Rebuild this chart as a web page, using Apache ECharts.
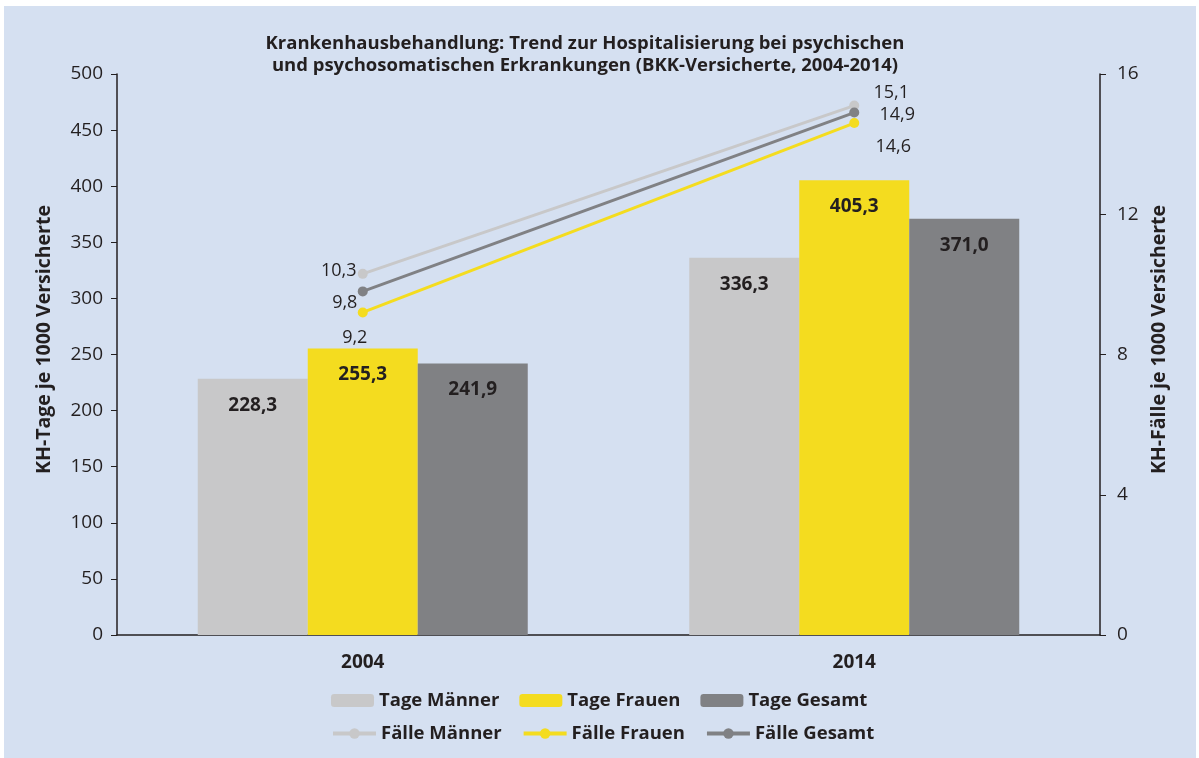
<!DOCTYPE html>
<html>
<head>
<meta charset="utf-8">
<script src="https://cdn.jsdelivr.net/npm/echarts@6/dist/echarts.min.js"></script>
<style>
html, body { margin: 0; padding: 0; background: #ffffff; }
#bg { position: absolute; left: 4px; top: 6px; width: 1192px; height: 752px; background: #d5e0f1; }
#chart { position: absolute; left: 0; top: 0; width: 1199px; height: 758px; }
</style>
</head>
<body>
<div id="bg"></div>
<div id="chart"></div>
<script>
var years = ['2004', '2014']
var tageMaenner = [228.3, 336.3]
var tageFrauen = [255.3, 405.3]
var tageGesamt = [241.9, 371.0]
var faelleMaenner = [10.3, 15.1]
var faelleFrauen = [9.2, 14.6]
var faelleGesamt = [9.8, 14.9]

var font = '"Open Sans", "Noto Sans", sans-serif'
var fmt = function (v) { return v.toFixed(1).replace('.', ',') }

function barSeries(name, data, color) {
    return {
        name: name,
        type: 'bar',
        barWidth: 110,
        barGap: '0%',
        data: data,
        itemStyle: { color: color },
        label: {
            show: true,
            position: 'insideTop',
            distance: 17,
            formatter: function (p) { return fmt(p.value) },
            color: '#231f20',
            fontFamily: font,
            fontWeight: 'bold',
            fontSize: 19
        }
    }
}

function lineSeries(name, data, color, offsets) {
    return {
        name: name,
        type: 'line',
        yAxisIndex: 1,
        symbol: 'circle',
        symbolSize: 10,
        data: data.map(function (v, i) {
            return { value: v, label: { offset: offsets[i] } }
        }),
        lineStyle: { color: color, width: 3 },
        itemStyle: { color: color },
        label: {
            show: true,
            position: 'inside',
            formatter: function (p) { return fmt(p.value) },
            color: '#231f20',
            fontFamily: font,
            fontSize: 18
        },
        z: 5
    }
}

var axisText = { color: '#231f20', fontFamily: font, fontSize: 19 }
var nameText = { color: '#231f20', fontFamily: font, fontWeight: 'bold', fontSize: 19.5, padding: [0, 0, 0, 30] }
var legendText = { color: '#231f20', fontFamily: font, fontWeight: 'bold', fontSize: 18.5 }

var option = {
    backgroundColor: 'transparent',
    animation: false,
    title: {
        text: 'Krankenhausbehandlung: Trend zur Hospitalisierung bei psychischen\nund psychosomatischen Erkrankungen (BKK-Versicherte, 2004-2014)',
        left: 580,
        top: 28,
        textAlign: 'center',
        textStyle: {
            color: '#231f20',
            fontFamily: font,
            fontWeight: 'bold',
            fontSize: 18.5,
            lineHeight: 22
        }
    },
    grid: { left: 117, right: 99, top: 74, bottom: 123 },
    legend: [{
        data: ['Tage Männer', 'Tage Frauen', 'Tage Gesamt'],
        left: 326,
        top: 686,
        itemWidth: 43,
        itemHeight: 13,
        itemGap: 20,
        textStyle: legendText
    }, {
        data: ['Fälle Männer', 'Fälle Frauen', 'Fälle Gesamt'],
        left: 326,
        top: 719,
        itemWidth: 43,
        itemHeight: 13,
        itemGap: 20,
        lineStyle: { width: 4 },
        textStyle: legendText
    }],
    xAxis: {
        type: 'category',
        data: years,
        axisLine: { lineStyle: { color: '#231f20', width: 1.5 } },
        axisTick: { show: false },
        axisLabel: { color: '#231f20', fontFamily: font, fontWeight: 'bold', fontSize: 19, margin: 18 }
    },
    yAxis: [{
        type: 'value',
        min: 0,
        max: 500,
        interval: 50,
        name: 'KH-Tage je 1000 Versicherte',
        nameLocation: 'middle',
        nameGap: 63,
        nameTextStyle: nameText,
        axisLine: { show: true, lineStyle: { color: '#231f20', width: 1.5 } },
        axisTick: { show: true, length: 6, lineStyle: { color: '#231f20' } },
        axisLabel: Object.assign({ margin: 14 }, axisText),
        splitLine: { show: false }
    }, {
        type: 'value',
        min: 0,
        max: 16,
        interval: 4,
        name: 'KH-Fälle je 1000 Versicherte',
        nameLocation: 'middle',
        nameGap: 49,
        nameRotate: 90,
        nameTextStyle: nameText,
        axisLine: { show: true, lineStyle: { color: '#231f20', width: 1.5 } },
        axisTick: { show: true, length: 6, lineStyle: { color: '#231f20' } },
        axisLabel: Object.assign({ margin: 17 }, axisText),
        splitLine: { show: false }
    }],
    series: [
        barSeries('Tage Männer', tageMaenner, '#c8c8c9'),
        barSeries('Tage Frauen', tageFrauen, '#f4dc1f'),
        barSeries('Tage Gesamt', tageGesamt, '#808184'),
        lineSeries('Fälle Männer', faelleMaenner, '#c8c8c9', [[-24, -3], [37, -13]]),
        lineSeries('Fälle Frauen', faelleFrauen, '#f4dc1f', [[-8, 25], [39, 24]]),
        lineSeries('Fälle Gesamt', faelleGesamt, '#808184', [[-18, 11], [43, 2]])
    ]
}

echarts.init(document.getElementById('chart')).setOption(option)
</script>
</body>
</html>
